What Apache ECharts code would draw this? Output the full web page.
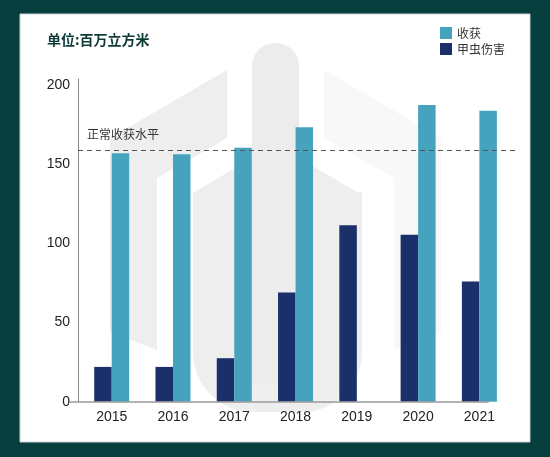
<!DOCTYPE html>
<html>
<head>
<meta charset="utf-8">
<script src="https://cdn.jsdelivr.net/npm/echarts@6/dist/echarts.min.js"></script>
<style>
html,body{margin:0;padding:0;background:#063f3d;}
#c{width:550px;height:457px;}
</style>
</head>
<body>
<div id="c"></div>
<script>
// ---- data ----
const years = [2015, 2016, 2017, 2018, 2019, 2020, 2021];
const harvest = [157, 156.5, 160.5, 173.5, null, 187.5, 184];
const beetleDamage = [22, 22, 27.5, 69, 111.5, 105.5, 76];
const normalHarvestLevel = 159;
const yTicks = [0, 50, 100, 150, 200];
const seriesNames = ['收获', '甲虫伤害'];
const titleText = '单位:百万立方米';
const normalLabel = '正常收获水平';

const FONT = '"Liberation Sans", "Noto Sans CJK SC", sans-serif';
const CJK = '"Noto Sans CJK SC", sans-serif';
const xMin = 2014.45, xMax = 2021.63, axisEnd = 2021.294;

const chart = echarts.init(document.getElementById('c'), null, {renderer: 'canvas'});
chart.setOption({
  backgroundColor: '#063f3d',
  animation: false,
  textStyle: {fontFamily: FONT},
  graphic: [
    {type: 'rect', z: -10, shape: {x: 20, y: 14, width: 510, height: 428},
     style: {fill: '#ffffff', stroke: '#c8d2d2', lineWidth: 1}},
    // watermark
    {type: 'polygon', z: -5, shape: {points: [[227,70],[110,138],[110,332],[157,350],[157,178],[227,138]]},
     style: {fill: '#eeeeee'}},
    {type: 'polygon', z: -5, shape: {points: [[324,70],[441,138],[441,332],[394,350],[394,178],[324,138]]},
     style: {fill: '#f8f8f8'}},
    {type: 'polygon', z: -5, shape: {points: [[193,193],[252,158],[299,158],[362,195]]},
     style: {fill: '#eeeeee'}},
    {type: 'rect', z: -5, shape: {x: 193, y: 192, width: 169, height: 220, r: [0,0,60,60]},
     style: {fill: '#eeeeee'}},
    {type: 'rect', z: -5, shape: {x: 252, y: 43, width: 47, height: 340, r: [23,23,0,0]},
     style: {fill: '#ececec'}},
    {type: 'text', left: 47, top: 33, z: 5,
     style: {text: titleText, fill: '#0e3a3a', font: 'bold 14px "Noto Sans CJK SC", sans-serif'}}
  ],
  legend: {
    data: seriesNames,
    orient: 'vertical',
    left: 440, top: 27, padding: 0,
    itemWidth: 12, itemHeight: 12, itemGap: 4,
    icon: 'rect',
    textStyle: {fontSize: 12, color: '#333', fontFamily: CJK}
  },
  grid: {left: 78, right: 32, top: 79, bottom: 55.3, containLabel: false},
  xAxis: {
    type: 'value', min: xMin, max: xMax,
    axisLine: {show: false},
    axisTick: {show: false},
    splitLine: {show: false},
    axisLabel: {customValues: years, fontSize: 14, color: '#222', margin: 8, fontFamily: FONT,
      formatter: v => String(Math.round(v))}
  },
  yAxis: {
    type: 'value', min: 0, max: 204, interval: 50,
    axisLine: {show: true, lineStyle: {color: '#888', width: 1}},
    axisTick: {show: false},
    splitLine: {show: false},
    axisLabel: {customValues: yTicks, fontSize: 14, color: '#222', margin: 8, fontFamily: FONT}
  },
  series: [
    {
      name: seriesNames[1], type: 'bar',
      data: years.map((y, i) => [y, beetleDamage[i]]),
      barWidth: 17.5, barGap: '0%',
      itemStyle: {color: '#1b2f6a'},
      markLine: {
        silent: true, symbol: 'none',
        label: {show: false},
        lineStyle: {type: 'solid', color: '#9a9a9a', width: 1.5},
        data: [[{coord: [xMin, 0]}, {coord: [axisEnd, 0]}]]
      }
    },
    {
      name: seriesNames[0], type: 'bar',
      data: years.map((y, i) => [y, harvest[i]]),
      barWidth: 17.5, barGap: '0%',
      itemStyle: {color: '#46a3bd'},
      markLine: {
        silent: true, symbol: 'none',
        lineStyle: {type: [5, 4], color: '#555', width: 1},
        label: {show: true, position: 'insideStartTop', formatter: normalLabel,
          fontSize: 12, color: '#333', fontFamily: CJK, distance: [9, 10]},
        data: [{yAxis: normalHarvestLevel}]
      }
    }
  ]
});
</script>
</body>
</html>
